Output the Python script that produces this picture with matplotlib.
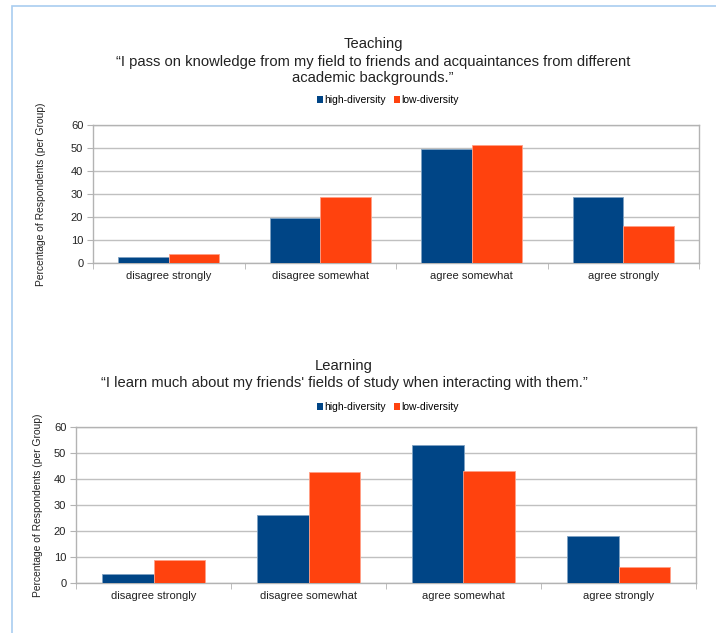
import numpy as np
import matplotlib.pyplot as plt
from matplotlib.patches import Rectangle, Patch

plt.rcParams['font.family'] = ['Liberation Sans', 'DejaVu Sans']

# ── Data ────────────────────────────────────────────────────────────────────
CATEGORIES = ["disagree strongly", "disagree somewhat", "agree somewhat", "agree strongly"]
SERIES     = ["high-diversity", "low-diversity"]

teach_high = [2.5, 19.6, 49.6, 28.5]
teach_low  = [3.8, 28.5, 51.5, 16.0]

learn_high = [3.5, 26.0, 52.9, 18.1]
learn_low  = [8.8, 42.8, 43.2, 6.2]

YTICKS = [0, 10, 20, 30, 40, 50, 60]

# ── Style ───────────────────────────────────────────────────────────────────
C_HIGH = "#004586"
C_LOW  = "#ff420e"
GRID   = "#c0c0c0"
TXT    = "#222222"

W, H = 716, 633
fig = plt.figure(figsize=(W / 100, H / 100), dpi=100)

# light blue outer frame
fig.patches.append(Rectangle((12 / W, -0.1), 1.2, (H - 6) / H + 0.1,
                             transform=fig.transFigure, fill=False,
                             edgecolor="#a9cdf0", lw=1.2))


def draw_panel(rect, high, low, ylab_x):
    ax = fig.add_axes(rect)
    x = np.arange(len(CATEGORIES))
    bw = 1 / 3
    ax.bar(x - bw / 2, high, bw, color=C_HIGH, edgecolor="#7fa2c2", lw=0.6, zorder=3)
    ax.bar(x + bw / 2, low, bw, color=C_LOW, edgecolor="#ff9f86", lw=0.6, zorder=3)
    ax.set_xlim(-0.5, len(CATEGORIES) - 0.5)
    ax.set_ylim(0, 60)
    ax.set_yticks(YTICKS)
    ax.yaxis.grid(True, color=GRID, lw=1.0, zorder=0)
    ax.set_xticks(x)
    ax.set_xticklabels(CATEGORIES, fontsize=8, color=TXT)
    ax.set_xticks(np.arange(len(CATEGORIES) + 1) - 0.5, minor=True)
    ax.tick_params(axis="x", which="major", length=0, pad=6)
    ax.tick_params(axis="x", which="minor", length=4, color="#b3b3b3", direction="out")
    ax.tick_params(axis="y", length=4, color="#b3b3b3", labelsize=8, labelcolor=TXT, pad=3)
    for s in ax.spines.values():
        s.set_color("#b3b3b3")
        s.set_linewidth(1.0)
    ax.set_ylabel("Percentage of Respondents (per Group)", fontsize=7.4, color=TXT)
    ax.yaxis.set_label_coords(ylab_x, 0.5)
    return ax


def add_legend(y_px):
    handles = [Patch(facecolor=C_HIGH), Patch(facecolor=C_LOW)]
    fig.legend(handles, SERIES, loc="center", bbox_to_anchor=(388 / W, 1 - y_px / H),
               ncol=2, frameon=False, fontsize=7.5, handlelength=0.6, handleheight=0.6,
               handletextpad=0.1, columnspacing=0.8, borderpad=0)


# ── Teaching ────────────────────────────────────────────────────────────────
ax1 = draw_panel([93 / W, 1 - 263 / H, 606 / W, 138 / H], teach_high, teach_low, -0.077)
fig.text(373 / W, 1 - 44 / H, "Teaching", ha="center", va="center", fontsize=10.6, color=TXT)
fig.text(373 / W, 1 - 70 / H,
         "\u201cI pass on knowledge from my field to friends and acquaintances from different\n"
         "academic backgrounds.\u201d",
         ha="center", va="center", fontsize=10.6, color=TXT, linespacing=1.1)
add_legend(100)

# ── Learning ────────────────────────────────────────────────────────────────
ax2 = draw_panel([76 / W, 1 - 583 / H, 620 / W, 156 / H], learn_high, learn_low, -0.0535)
fig.text(344 / W, 1 - 366 / H, "Learning", ha="center", va="center", fontsize=10.6, color=TXT)
fig.text(344 / W, 1 - 383 / H,
         "\u201cI learn much about my friends' fields of study when interacting with them.\u201d",
         ha="center", va="center", fontsize=10.6, color=TXT)
add_legend(407)

fig.savefig("out.png", dpi=100)
